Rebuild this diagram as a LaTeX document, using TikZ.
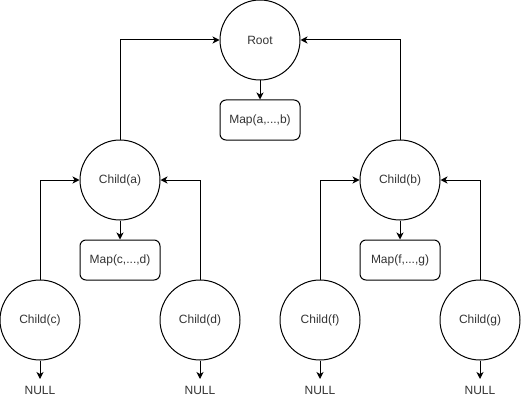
\documentclass[tikz,border=0pt]{standalone}
\usepackage{fontspec}
\setmainfont{Liberation Sans}
\usetikzlibrary{arrows.meta}
\definecolor{txt}{HTML}{333333}
\tikzset{
  circ/.style={draw, circle, minimum size=80pt, inner sep=0pt, line width=1pt, text=txt, font=\fontsize{12pt}{14pt}\selectfont},
  mapbox/.style={draw, rounded corners=6pt, minimum width=80pt, minimum height=40pt, inner sep=0pt, line width=1pt, text=txt, font=\fontsize{12pt}{14pt}\selectfont},
  nulltxt/.style={inner sep=0pt, text=txt, font=\fontsize{12pt}{14pt}\selectfont},
  conn/.style={line width=1pt, -{Stealth[length=7pt,width=7pt,inset=2pt]}}
}
\begin{document}
\begin{tikzpicture}[x=1pt,y=-1pt]
\useasboundingbox (0,0) rectangle (521,401);
% root
\node[circ] (root) at (260,40) {Root};
\node[mapbox] (mapab) at (260,120) {Map(a,...,b)};
% left subtree
\node[circ] (ca) at (120,180) {Child(a)};
\node[mapbox] (mapcd) at (120,260) {Map(c,...,d)};
\node[circ] (cc) at (40,320) {Child(c)};
\node[circ] (cd) at (200,320) {Child(d)};
% right subtree
\node[circ] (cb) at (400,180) {Child(b)};
\node[mapbox] (mapfg) at (400,260) {Map(f,...,g)};
\node[circ] (cf) at (320,320) {Child(f)};
\node[circ] (cg) at (480,320) {Child(g)};
% NULLs
\node[nulltxt] (n1) at (40,390) {NULL};
\node[nulltxt] (n2) at (200,390) {NULL};
\node[nulltxt] (n3) at (320,390) {NULL};
\node[nulltxt] (n4) at (480,390) {NULL};
\coordinate (e1) at (40,379);
\coordinate (e2) at (200,379);
\coordinate (e3) at (320,379);
\coordinate (e4) at (480,379);
% connectors
\draw[conn] (root.south) -- (mapab.north);
\draw[conn] (ca.south) -- (mapcd.north);
\draw[conn] (cb.south) -- (mapfg.north);
\draw[conn] (ca.north) |- (root.west);
\draw[conn] (cb.north) |- (root.east);
\draw[conn] (cc.north) |- (ca.west);
\draw[conn] (cd.north) |- (ca.east);
\draw[conn] (cf.north) |- (cb.west);
\draw[conn] (cg.north) |- (cb.east);
\draw[conn] (cc.south) -- (e1);
\draw[conn] (cd.south) -- (e2);
\draw[conn] (cf.south) -- (e3);
\draw[conn] (cg.south) -- (e4);
\end{tikzpicture}
\end{document}
